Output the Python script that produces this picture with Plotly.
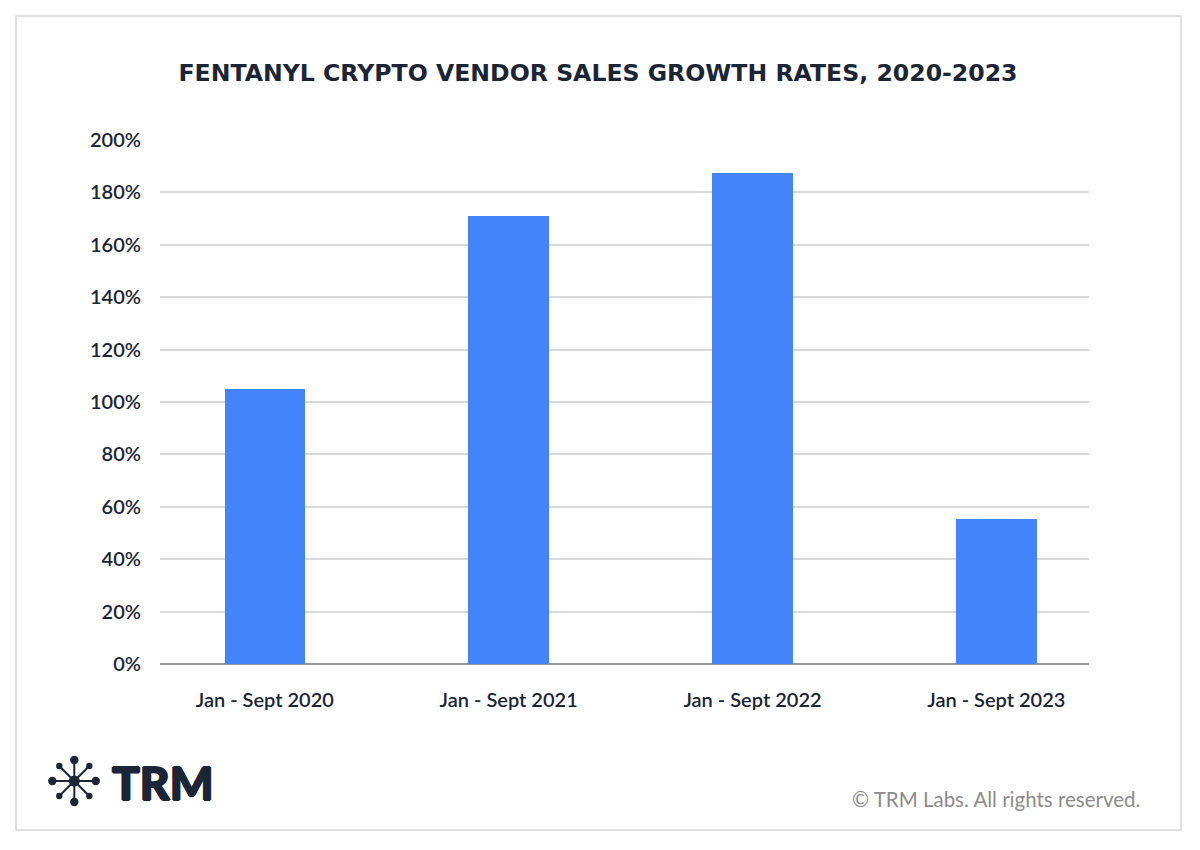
import plotly.graph_objects as go

categories = ["Jan - Sept 2020", "Jan - Sept 2021", "Jan - Sept 2022", "Jan - Sept 2023"]
growth_pct = [105, 171, 187.5, 55.5]
y_ticks = [0, 20, 40, 60, 80, 100, 120, 140, 160, 180, 200]
y_tick_labels = [f"{v}%" for v in y_ticks]

# page body has an 8px margin: shrink figure and shift all pixel positions
O = 8
W, H = 1200 - 2 * O, 850 - 2 * O
L, R, T, B = 160 - O, 1089 - O, 140 - O, 664 - O

def px(x):
    return (x - O - L) / (R - L)

def py(y):
    return (B - (y - O)) / (B - T)

DARK = "#1b2536"
BLUE = "#4384FB"

fig = go.Figure()
fig.add_trace(go.Bar(
    x=list(range(len(categories))),
    y=growth_pct,
    marker=dict(color=BLUE, line=dict(width=0)),
    width=0.33,
    hoverinfo="skip",
))

shapes = []
# outer frame
shapes.append(dict(type="rect", xref="paper", yref="paper",
                   x0=px(16), x1=px(1181), y0=py(830), y1=py(16),
                   line=dict(color="#d8d8d8", width=1.5), fillcolor="rgba(0,0,0,0)", layer="below"))

# TRM logo icon
cx, cy = 74.3, 781
spokes = [(0, -21), (0, 21), (-22, 0), (21.5, 0), (-15, -15), (15, -15), (-15, 15), (15, 15)]
for dx, dy in spokes:
    shapes.append(dict(type="line", xref="paper", yref="paper",
                       x0=px(cx), y0=py(cy), x1=px(cx + dx), y1=py(cy + dy),
                       line=dict(color=DARK, width=2)))
for i, (dx, dy) in enumerate(spokes):
    r = 4.2 if i < 4 else 3.2
    shapes.append(dict(type="circle", xref="paper", yref="paper",
                       x0=px(cx + dx - r), x1=px(cx + dx + r),
                       y0=py(cy + dy + r), y1=py(cy + dy - r),
                       fillcolor=DARK, line=dict(width=0)))
rc = 5.5
shapes.append(dict(type="circle", xref="paper", yref="paper",
                   x0=px(cx - rc), x1=px(cx + rc), y0=py(cy + rc), y1=py(cy - rc),
                   fillcolor=DARK, line=dict(width=0)))

annotations = [
    dict(text="TRM", xref="paper", yref="paper", x=px(110), y=py(782),
         xanchor="left", yanchor="middle", showarrow=False,
         font=dict(family="Lato", size=46, color=DARK, weight=900,
                   shadow="1px 0 0 #1b2536, -1px 0 0 #1b2536, 0 1px 0 #1b2536, 0 -1px 0 #1b2536")),
    dict(text="© TRM Labs. All rights reserved.", xref="paper", yref="paper",
         x=px(1142), y=py(799), xanchor="right", yanchor="middle", showarrow=False,
         font=dict(family="Lato", size=20.5, color="#8c8c8c")),
]

fig.update_layout(
    width=W, height=H,
    margin=dict(l=L, r=W - R, t=T, b=H - B),
    paper_bgcolor="white", plot_bgcolor="white",
    showlegend=False,
    title=dict(text="<b>FENTANYL CRYPTO VENDOR SALES GROWTH RATES, 2020-2023</b>",
               x=(598 - O) / W, xref="container", xanchor="center",
               y=1 - (73 - O) / H, yref="container", yanchor="middle",
               font=dict(family="DejaVu Sans", size=23.6, color=DARK)),
    xaxis=dict(
        range=[-0.43, 3.38],
        tickmode="array", tickvals=list(range(len(categories))), ticktext=categories,
        showgrid=False, zeroline=False, showline=False,
        ticks="", ticklabelstandoff=22,
        tickfont=dict(family="Lato", size=20, color=DARK, weight=600),
    ),
    yaxis=dict(
        range=[0, 200],
        tickmode="array", tickvals=y_ticks, ticktext=y_tick_labels,
        showgrid=True, gridcolor="#d9d9d9", gridwidth=1.5,
        zeroline=True, zerolinecolor="#9a9a9a", zerolinewidth=1.5,
        showline=False, ticks="", ticklabelstandoff=18,
        tickfont=dict(family="Lato", size=20, color=DARK, weight=600),
    ),
    shapes=shapes,
    annotations=annotations,
    bargap=0,
)

fig.write_html("out.html")
